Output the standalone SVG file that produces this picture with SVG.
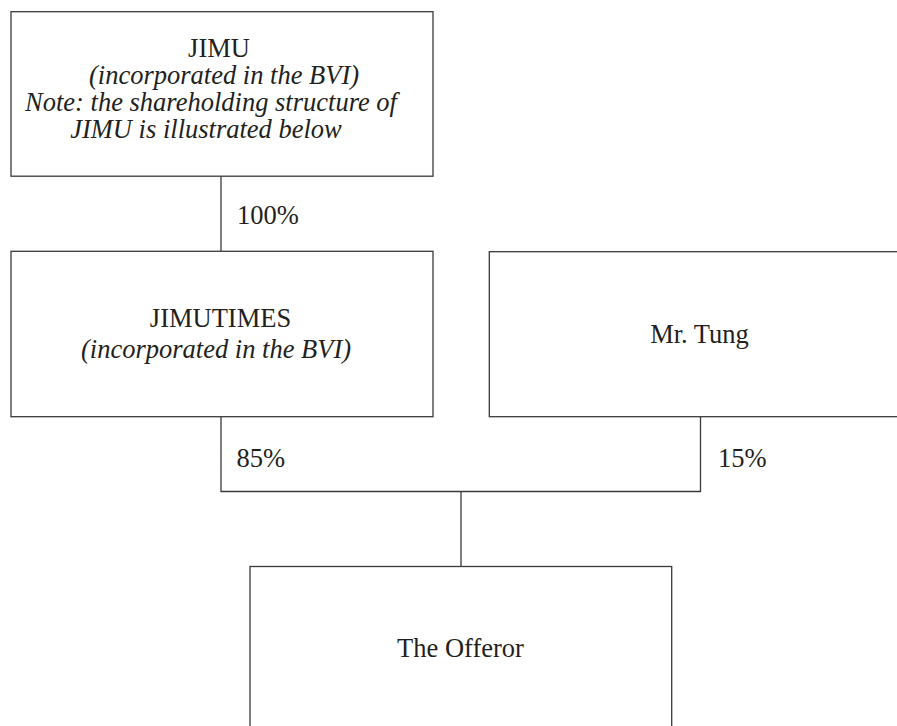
<svg xmlns="http://www.w3.org/2000/svg" width="897" height="726" viewBox="0 0 897 726">
<style>
.box{fill:#fff;stroke:#3a3a3a;stroke-width:1.3}
.ln{fill:none;stroke:#3a3a3a;stroke-width:1.3}
text{font-family:"Liberation Serif","Times New Roman",serif;font-size:26.5px;fill:#231f20}
.c{text-anchor:middle}
.i{font-style:italic}
</style>
<rect width="897" height="726" fill="#fff"/>
<g id="connectors">
<line class="ln" x1="221" y1="176" x2="221" y2="251"/>
<polyline class="ln" points="221,417 221,491.5 700.5,491.5 700.5,417"/>
<line class="ln" x1="461" y1="491.5" x2="461" y2="566.5"/>
<text x="237" y="224">100%</text>
<text x="236.5" y="467">85%</text>
<text x="718" y="467">15%</text>
</g>
<g id="jimu">
<rect class="box" x="11" y="11.7" width="422" height="164.5"/>
<text class="c" x="219" y="56.5">JIMU</text>
<text class="c i" x="224" y="83.5">(incorporated in the BVI)</text>
<text class="c i" x="211" y="110.5">Note: the shareholding structure of</text>
<text class="c i" x="206" y="138">JIMU is illustrated below</text>
</g>
<g id="jimutimes">
<rect class="box" x="11" y="251.3" width="422" height="165.4"/>
<text class="c" x="220.5" y="326.7">JIMUTIMES</text>
<text class="c i" x="216" y="358.3">(incorporated in the BVI)</text>
</g>
<g id="mrtung">
<rect class="box" x="489.3" y="251.7" width="420" height="165"/>
<text class="c" x="699.5" y="343.3">Mr. Tung</text>
</g>
<g id="offeror">
<rect class="box" x="250" y="566.5" width="421.7" height="170"/>
<text class="c" x="460.5" y="657.3">The Offeror</text>
</g>
</svg>
